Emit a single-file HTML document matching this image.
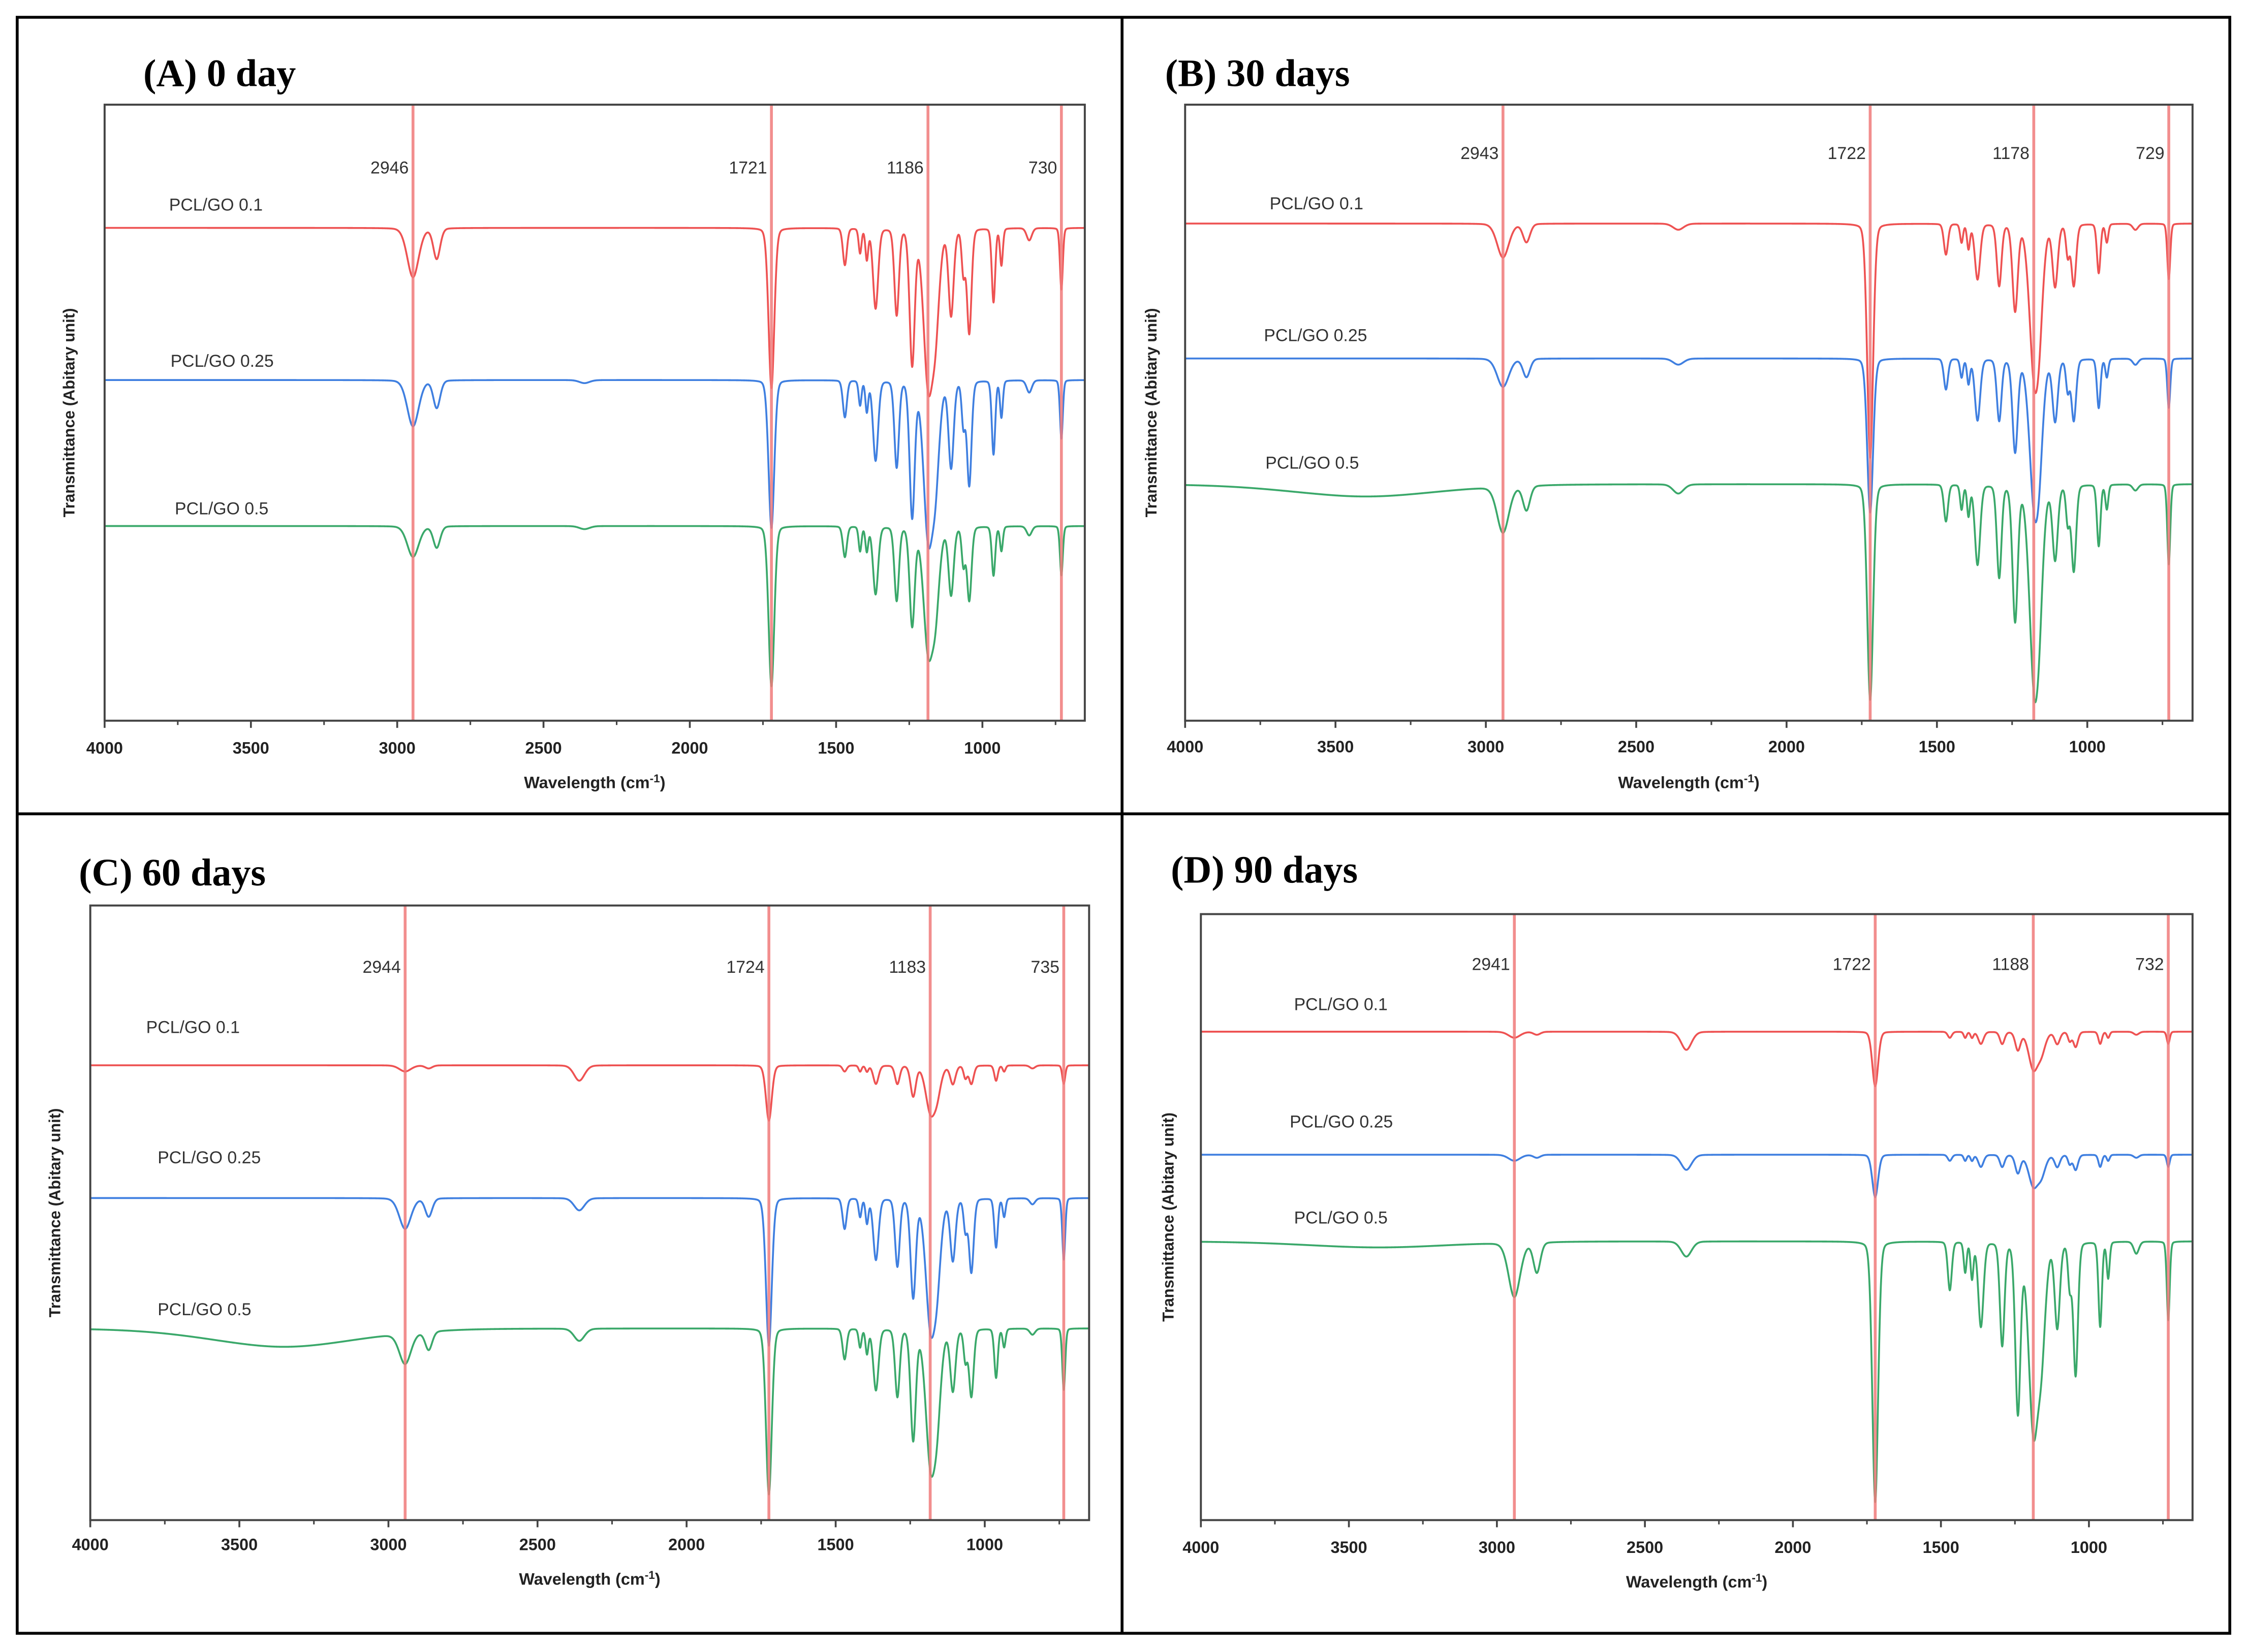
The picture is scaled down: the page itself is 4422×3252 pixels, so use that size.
<!DOCTYPE html>
<html><head><meta charset="utf-8"><style>
html,body{margin:0;padding:0;background:#fff;}
svg{display:block;}
</style></head><body>
<svg id="fig" xmlns="http://www.w3.org/2000/svg" width="4422" height="3252" viewBox="0 0 1568 1153">
<rect x="0" y="0" width="1568" height="1153" fill="#fff"/>
<g stroke="#000" stroke-width="2" fill="none">
<rect x="12" y="12" width="1544" height="1128"/>
<line x1="783" y1="12" x2="783" y2="1140"/>
<line x1="12" y1="568" x2="1556" y2="568"/>
</g>
</svg>
<script>
// ---- data ----
const peakPosA = [3400,2946,2865,2360,1721,1470,1418,1395,1365,1293,1240,1186,1160,1107,1065,1045,962,935,840,730];
const peakPosB = [3400,2943,2865,2360,1722,1470,1418,1395,1365,1293,1240,1178,1160,1107,1065,1045,962,935,840,729];
const peakPosC = [3350,2944,2865,2360,1724,1470,1418,1395,1365,1293,1240,1183,1160,1107,1065,1045,962,935,840,735];
const peakPosD = [3400,2941,2865,2360,1722,1470,1418,1395,1365,1293,1240,1188,1160,1107,1065,1045,962,935,840,732];
const peakWidths = [250,20,12,18,10,7,5,5,9,8,9,16,14,9,6,8,6,5,9,5];
const seriesNames = ["PCL/GO 0.1","PCL/GO 0.25","PCL/GO 0.5"];
const baselinesA = [80,55.3,31.6];
const baselinesB = [80.7,58.8,38.4];
const baselinesC = [74,52.4,31.2];
const baselinesD = [80.6,60.3,46];
const depthsA_red = [0,8,5,0,26,6,4,5,13,14,22,24,14,14,7,17,12,6,2,10];
const depthsA_blue = [0,7.5,4.5,0.5,24,6,4,5,13,14,22,24,14,14,7,17,12,6,2,9.5];
const depthsA_green = [0,5,3.5,0.5,26,5,4,4,11,12,16,19,12,11,6,12,8,4,1.5,8];
const depthsB_red = [0,5.5,3,1,38,5,3,4,9,10,14,21,12,10,5,10,8,3,1,9];
const depthsB_blue = [0,4.6,3,1,25,5,3,4,10,10,15,20,12,10,5,10,8,3,1,8];
const depthsB_green = [2,7.5,4,1.5,35,6,4,5,13,15,22,28,14,12,6,14,10,4,1,13];
const depthsC_red = [0,1,0.5,2.5,9,1,1,1,3,3,5,7,4,3,2,3,2.5,1,0.5,3];
const depthsC_blue = [0,5,3,2,24,5,3,4,10,11,16,19,11,10,5,12,8,3,1,10];
const depthsC_green = [3,5,3,2,27,5,3,4,10,11,18,20,12,10,5,11,8,3,1,10];
const depthsD_red = [0,1,0.5,3,9,1,1,1,2,2,3,6,3,2,1.5,2.5,2,1,0.5,2];
const depthsD_blue = [0,1,0.5,2.5,7,1,1,1,2,2,3,5,3,2,1.5,2.5,2,1,0.5,2];
const depthsD_green = [1,9,5,2.5,43,8,5,6,14,17,28,30,16,14,7,22,14,6,2,13];
const markedA = [2946,1721,1186,730];
const markedB = [2943,1722,1178,729];
const markedC = [2944,1724,1183,735];
const markedD = [2941,1722,1188,732];
const xTicks = [4000,3500,3000,2500,2000,1500,1000];
const xMinorTicks = [3750,3250,2750,2250,1750,1250,750];

const panels = [
 {id:"a",title:"(A)  0 day",box:[73,757,73,503],tx:100,ty:60,ly:121,yt:52,tly:526,xty:550,
  pos:peakPosA,base:baselinesA,depths:[depthsA_red,depthsA_blue,depthsA_green],marked:markedA,
  lab:[[118,147],[119,256],[122,359]]},
 {id:"b",title:"(B) 30 days",box:[827,1530,73,503],tx:813,ty:60,ly:111,yt:807,tly:525,xty:550,
  pos:peakPosB,base:baselinesB,depths:[depthsB_red,depthsB_blue,depthsB_green],marked:markedB,
  lab:[[886,146],[882,238],[883,327]]},
 {id:"c",title:"(C) 60 days",box:[63,760,632,1061],tx:55,ty:618,ly:679,yt:42,tly:1082,xty:1106,
  pos:peakPosC,base:baselinesC,depths:[depthsC_red,depthsC_blue,depthsC_green],marked:markedC,
  lab:[[102,721],[110,812],[110,918]]},
 {id:"d",title:"(D) 90 days",box:[838,1530,638,1061],tx:817,ty:616,ly:677,yt:819,tly:1084,xty:1108,
  pos:peakPosD,base:baselinesD,depths:[depthsD_red,depthsD_blue,depthsD_green],marked:markedD,
  lab:[[903,705],[900,787],[903,854]]}
];
const colors = ["#ee5252","#3f7fe0","#3aa86a"];
const NS = "http://www.w3.org/2000/svg";
const svg = document.getElementById("fig");
function mk(tag, attrs, parent){const e=document.createElementNS(NS,tag);for(const k in attrs)e.setAttribute(k,attrs[k]);parent.appendChild(e);return e;}

panels.forEach(p=>{
  const [x0,x1,y0,y1]=p.box;
  const xs = w => x0 + (4000-w)/(4000-650)*(x1-x0);
  const ys = v => y1 - v/100*(y1-y0);
  const g = mk("g",{},svg);
  
  
  const t = mk("text",{x:p.tx,y:p.ty,"font-family":"Liberation Serif, serif","font-weight":"bold","font-size":"27"},g);
  t.textContent=p.title;
  
  
  p.depths.forEach((d,si)=>{
    let pts=[];
    for(let w=4000; w>=650; w-=1){
      let v=p.base[si];
      for(let k=0;k<p.pos.length;k++){
        const z=(w-p.pos[k])/peakWidths[k];
        if(Math.abs(z)<40) v-=d[k]*(0.82*Math.exp(-0.5*z*z)+0.18/(1+z*z));
      }
      pts.push(xs(w).toFixed(2)+","+ys(v).toFixed(2));
    }
    const pl = mk("polyline",{points:pts.join(" "),fill:"none",stroke:colors[si],"stroke-width":"1.3","stroke-linejoin":"round"},g);
    
    
    const lt = mk("text",{x:p.lab[si][0],y:p.lab[si][1],"font-family":"Liberation Sans, sans-serif","font-size":"12","fill":"#333"},g);
    lt.textContent=seriesNames[si];
    
    
  });
  p.marked.forEach(m=>{
    const l = mk("line",{x1:xs(m),x2:xs(m),y1:y0,y2:y1,stroke:"#f07a7a","stroke-width":"2","stroke-opacity":"0.85"},g);
    
    
    const lt = mk("text",{x:xs(m)-3,y:p.ly,"text-anchor":"end","font-family":"Liberation Sans, sans-serif","font-size":"12","fill":"#333"},g);
    lt.textContent=String(m);
    
    
  });
  const fr = mk("rect",{x:x0,y:y0,width:x1-x0,height:y1-y0,fill:"none",stroke:"#444","stroke-width":"1.4"},g);
  
  
  xTicks.forEach(tv=>{
    const tk = mk("line",{x1:xs(tv),x2:xs(tv),y1:y1,y2:y1+5,stroke:"#444","stroke-width":"1.3"},g);
    
    
    const tl = mk("text",{x:xs(tv),y:p.tly,"text-anchor":"middle","font-family":"Liberation Sans, sans-serif","font-weight":"bold","font-size":"11.5","fill":"#222"},g);
    tl.textContent=String(tv);
    
    
  });
  xMinorTicks.forEach(tv=>{
    const tk = mk("line",{x1:xs(tv),x2:xs(tv),y1:y1,y2:y1+3,stroke:"#444","stroke-width":"1.1"},g);
    
    
  });
  const xt = mk("text",{x:(x0+x1)/2,y:p.xty,"text-anchor":"middle","font-family":"Liberation Sans, sans-serif","font-weight":"bold","font-size":"11.5","fill":"#222"},g);
  xt.innerHTML='Wavelength (cm<tspan dy="-4" font-size="8">-1</tspan><tspan dy="4">)</tspan>';
  
  
  const cy=(y0+y1)/2;
  const yt = mk("text",{x:p.yt,y:cy,"text-anchor":"middle","font-family":"Liberation Sans, sans-serif","font-weight":"bold","font-size":"11","fill":"#222",transform:`rotate(-90 ${p.yt} ${cy})`},g);
  yt.textContent="Transmittance (Abitary unit)";
  
  
});
</script>
</body></html>
